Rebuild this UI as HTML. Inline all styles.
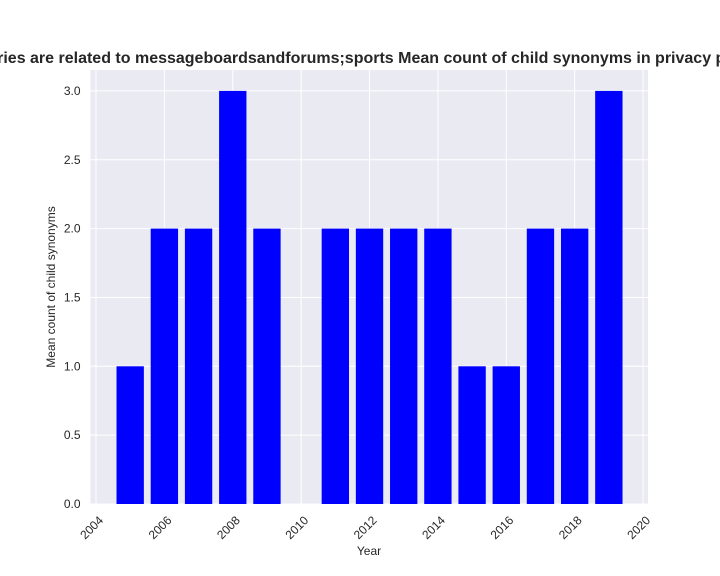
<!DOCTYPE html>
<html><head><meta charset="utf-8"><style>body{margin:0;background:#fff}svg{display:block;font-family:"Liberation Sans",Arial,sans-serif}</style></head>
<body>
<svg id="c" width="720" height="576"></svg>
<script>
const years=[2005,2006,2007,2008,2009,2011,2012,2013,2014,2015,2016,2017,2018,2019];
const values=[1,2,2,3,2,2,2,2,2,1,1,2,2,3];
const xTicks=[2004,2006,2008,2010,2012,2014,2016,2018,2020];
const yTicks=[0,0.5,1,1.5,2,2.5,3];
const yTickLabels=["0.0","0.5","1.0","1.5","2.0","2.5","3.0"];
const NS="http://www.w3.org/2000/svg",svg=document.getElementById('c');
const L=90.5,R=648,T=70,B=504;
const xs=v=>96+(v-2004)*34.19;
const ys=v=>B-v*137.7;
function mk(t,a,p){const e=document.createElementNS(NS,t);for(const k in a)e.setAttribute(k,a[k]);(p||svg).appendChild(e);return e;}
const bg=mk('rect',{x:L,y:T,width:R-L,height:B-T,fill:'#eaeaf2'});


xTicks.forEach(t=>{const x=xs(t);
 const g=mk('line',{x1:x,x2:x,y1:T,y2:B,stroke:'#fff','stroke-width':1});
 
 
 const ax=x+8,ay=B+17;
 const tx=mk('text',{x:ax,y:ay,'font-size':12,fill:'#262626','text-anchor':'end',transform:`rotate(-45 ${ax} ${ay})`});
 tx.textContent=t;
 
 
});
yTicks.forEach((t,i)=>{const y=ys(t);
 const g=mk('line',{x1:L,x2:R,y1:y,y2:y,stroke:'#fff','stroke-width':1});
 
 
 const tx=mk('text',{x:L-10,y:y+4,'font-size':12,fill:'#262626','text-anchor':'end'});
 tx.textContent=yTickLabels[i];
 
 
});
years.forEach((yr,i)=>{const w=0.8*34.19;
 const b=mk('rect',{x:xs(yr)-w/2,y:ys(values[i]),width:w,height:B-ys(values[i]),fill:'#0000ff'});
 
 
});
const xl=mk('text',{x:369,y:555,'font-size':12,fill:'#262626','text-anchor':'middle'});xl.textContent='Year';


const yl=mk('text',{x:55,y:287,'font-size':12,fill:'#262626','text-anchor':'middle',transform:'rotate(-90 55 287)'});yl.textContent='Mean count of child synonyms';


const ti=mk('text',{x:359,y:63,'font-size':16,'font-weight':'bold',fill:'#262626','text-anchor':'middle'});
ti.textContent='Categories are related to messageboardsandforums;sports Mean count of child synonyms in privacy policies';


</script>
</body></html>
